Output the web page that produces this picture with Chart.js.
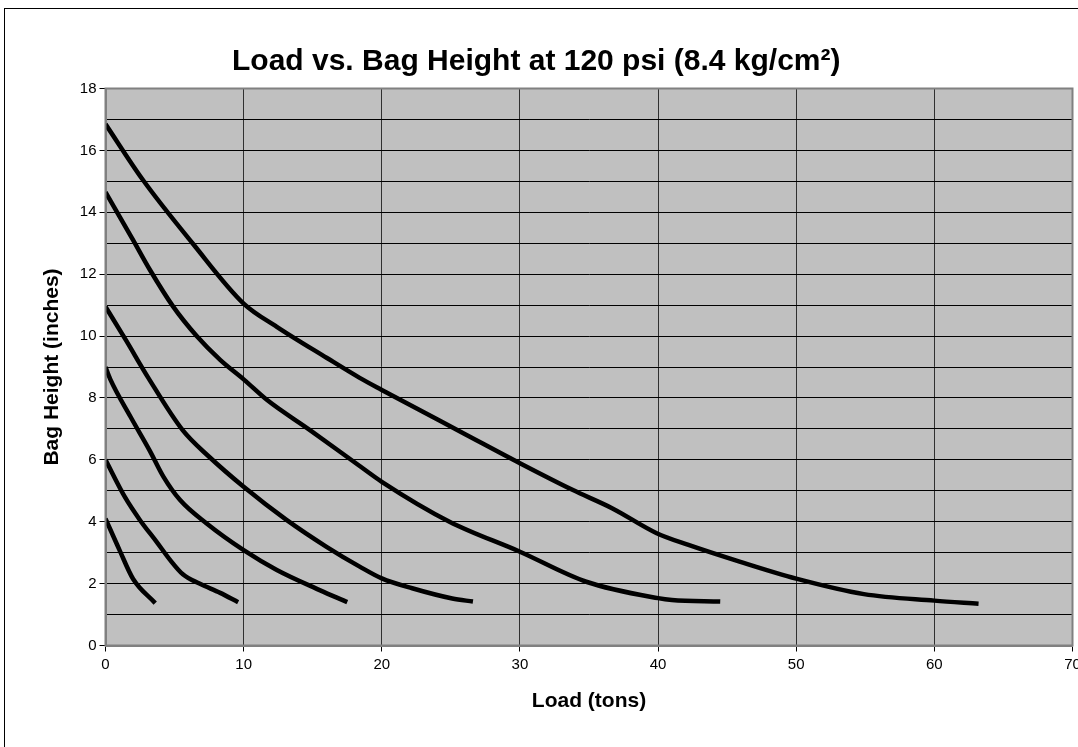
<!DOCTYPE html>
<html>
<head>
<meta charset="utf-8">
<script src="https://cdn.jsdelivr.net/npm/chart.js@4.4.1/dist/chart.umd.min.js"></script>
<style>
  html, body { margin: 0; padding: 0; background: #fff; overflow: hidden; }
  #wrap { position: relative; width: 1078px; height: 747px; }
  #frame { position: absolute; left: 4px; top: 8px; width: 1200px; height: 900px; border-left: 1px solid #000; border-top: 1px solid #000; pointer-events: none; }
  canvas { position: absolute; left: 0; top: 0; }
</style>
</head>
<body>
<div id="wrap">
  <canvas id="c" width="1078" height="747"></canvas>
  <div id="frame"></div>
</div>
<script>
// ---- data ----
const chartTitle = 'Load vs. Bag Height at 120 psi (8.4 kg/cm\u00B2)';
const xAxisTitle = 'Load (tons)';
const yAxisTitle = 'Bag Height (inches)';

const curve1X = [0, 1.0, 2.0, 3.6];
const curve1Y = [4.1, 3.1, 2.15, 1.37];

const curve2X = [0, 1.4, 2.5, 3.7, 4.7, 5.6, 6.8, 8.3, 9.6];
const curve2Y = [6.0, 4.8, 4.05, 3.35, 2.75, 2.3, 2.0, 1.7, 1.4];

const curve3X = [0, 0.35, 1.8, 3.2, 4.2, 5.4, 7.3, 10, 12.4, 15.5, 17.5];
const curve3Y = [9.0, 8.6, 7.4, 6.3, 5.45, 4.7, 3.95, 3.08, 2.44, 1.79, 1.4];

const curve4X = [0, 1.5, 3.1, 5.6, 7.5, 10, 13.1, 16, 18.4, 20, 22.2, 25.1, 26.6];
const curve4Y = [10.95, 9.85, 8.65, 6.95, 6.1, 5.13, 4.06, 3.19, 2.55, 2.17, 1.85, 1.52, 1.42];

const curve5X = [0, 2.0, 3.2, 4.9, 6.6, 8.3, 10, 11.7, 14.8, 18.4, 20, 24.9, 30, 34.8, 40, 41, 44.5];
const curve5Y = [14.65, 13.1, 12.15, 10.95, 10.0, 9.23, 8.6, 7.93, 6.96, 5.8, 5.29, 4.0, 3.03, 2.06, 1.53, 1.47, 1.42];

const curve6X = [0, 2.7, 6.3, 10, 12.4, 16, 18.4, 20, 25.9, 30, 33.8, 36.7, 39.9, 42.2, 45.9, 50, 54.9, 60, 63.2];
const curve6Y = [16.85, 15.05, 13.0, 11.05, 10.3, 9.3, 8.65, 8.26, 6.86, 5.89, 5.03, 4.43, 3.63, 3.25, 2.71, 2.16, 1.66, 1.45, 1.35];

const xMin = 0, xMax = 70, xStep = 10;
const yMin = 0, yMax = 18, yStep = 1, yLabelEvery = 2;

// ---- build ----
const curvesX = [curve1X, curve2X, curve3X, curve4X, curve5X, curve6X];
const curvesY = [curve1Y, curve2Y, curve3Y, curve4Y, curve5Y, curve6Y];
const datasets = curvesX.map((xs, i) => ({
  data: xs.map((x, j) => ({ x: x, y: curvesY[i][j] })),
  borderColor: '#000',
  borderWidth: 4.5,
  pointRadius: 0,
  showLine: true,
  fill: false,
  tension: 0.4,
  cubicInterpolationMode: 'monotone',
  borderCapStyle: 'butt',
  borderJoinStyle: 'round'
}));

const FONT = '"Liberation Sans", Arial, sans-serif';

const plotBg = {
  id: 'plotBg',
  beforeDraw(chart) {
    const { ctx, chartArea: a } = chart;
    ctx.save();
    ctx.fillStyle = '#C0C0C0';
    ctx.fillRect(a.left, a.top, a.right - a.left, a.bottom - a.top);
    ctx.restore();
  },
  afterDatasetsDraw(chart) {
    const { ctx, chartArea: a } = chart;
    ctx.save();
    ctx.strokeStyle = '#808080';
    ctx.lineWidth = 2;
    ctx.strokeRect(a.left, a.top, a.right - a.left, a.bottom - a.top);
    ctx.restore();
  }
};

new Chart(document.getElementById('c'), {
  type: 'scatter',
  data: { datasets },
  plugins: [plotBg],
  options: {
    responsive: false,
    animation: false,
    devicePixelRatio: 1,
    layout: { padding: { left: 0, right: 5.5, top: 0, bottom: 0 } },
    plugins: {
      legend: { display: false },
      tooltip: { enabled: false },
      title: {
        display: true,
        text: chartTitle,
        color: '#000',
        font: { family: FONT, size: 30, weight: 'bold', lineHeight: 1.2 },
        padding: { top: 44, bottom: 8.5 }
      }
    },
    scales: {
      x: {
        type: 'linear',
        min: xMin, max: xMax,
        afterFit(s) { s.height = 101.5; s.paddingLeft = 0; s.paddingRight = 0; },
        ticks: {
          stepSize: xStep,
          color: '#000',
          font: { family: FONT, size: 15 },
          padding: 4,
          maxRotation: 0,
          autoSkip: false
        },
        grid: {
          color: '#303030',
          lineWidth: 1,
          drawTicks: true,
          tickLength: 6,
          tickColor: '#000'
        },
        border: { display: true, color: '#808080', width: 2 },
        title: {
          display: true,
          text: xAxisTitle,
          color: '#000',
          font: { family: FONT, size: 21, weight: 'bold', lineHeight: 1.2 },
          padding: { top: 0, bottom: 33 }
        }
      },
      y: {
        type: 'linear',
        min: yMin, max: yMax,
        afterFit(s) { s.width = 105.5; s.paddingTop = 0; s.paddingBottom = 0; },
        ticks: {
          stepSize: yStep,
          color: '#000',
          font: { family: FONT, size: 15 },
          padding: 3,
          autoSkip: false,
          callback: (v) => (v % yLabelEvery === 0 ? String(v) : '')
        },
        grid: {
          color: '#000',
          lineWidth: 1,
          drawTicks: true,
          tickLength: 6,
          tickColor: (ctx) => (ctx.tick && ctx.tick.value % yLabelEvery === 0 ? '#000' : 'rgba(0,0,0,0)')
        },
        border: { display: true, color: '#808080', width: 2 },
        title: {
          display: true,
          text: yAxisTitle,
          color: '#000',
          font: { family: FONT, size: 21, weight: 'bold', lineHeight: 1.2 },
          padding: { top: 40, bottom: 0 }
        }
      }
    }
  }
});
</script>
</body>
</html>
